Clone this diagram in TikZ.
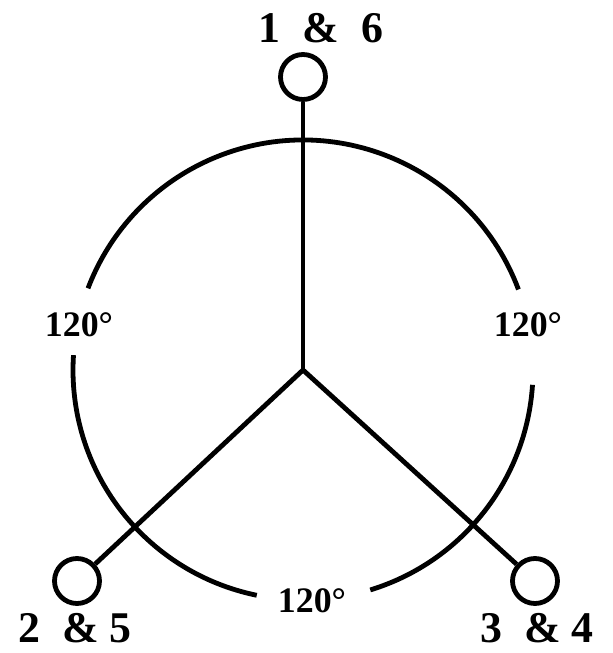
\documentclass[tikz,border=0pt]{standalone}
\usepackage{fontspec}
\setmainfont{Liberation Serif}
\begin{document}
\begin{tikzpicture}[x=1bp,y=1bp,line width=4.8bp,
  term/.style={draw,circle,minimum size=45bp,inner sep=0pt,line width=4.8bp},
  biglabel/.style={anchor=base,inner sep=0pt,font=\bfseries\fontsize{44}{48}\selectfont},
  anglabel/.style={anchor=base,inner sep=0pt,font=\bfseries\fontsize{36}{40}\selectfont}]
\useasboundingbox (0,0) rectangle (613,653);
\coordinate (c) at (303,283);
\node[term] (t) at (303,576) {};
\node[term] (ll) at (77,72) {};
\node[term] (lr) at (535,72) {};
\draw (c) -- (t);
\draw (c) -- (ll);
\draw (c) -- (lr);
% arcs of the big circle, radius 230
\draw ([shift={(20.5:230)}]c) arc[start angle=20.5,end angle=159.2,radius=230];
\draw ([shift={(176.3:230)}]c) arc[start angle=176.3,end angle=258.4,radius=230];
\draw ([shift={(287:230)}]c) arc[start angle=287,end angle=356.3,radius=230];
\node[biglabel] (lt) at (321,610) {1~~\&~~6};
\node[biglabel] (lbl) at (75,10) {2~~\&~5};
\node[biglabel] (lbr) at (537,10) {3~~\&~4};
\node[anglabel] (a1) at (79,316) {120°};
\node[anglabel] (a2) at (528,316) {120°};
\node[anglabel] (a3) at (312,40) {120°};
\end{tikzpicture}
\end{document}
